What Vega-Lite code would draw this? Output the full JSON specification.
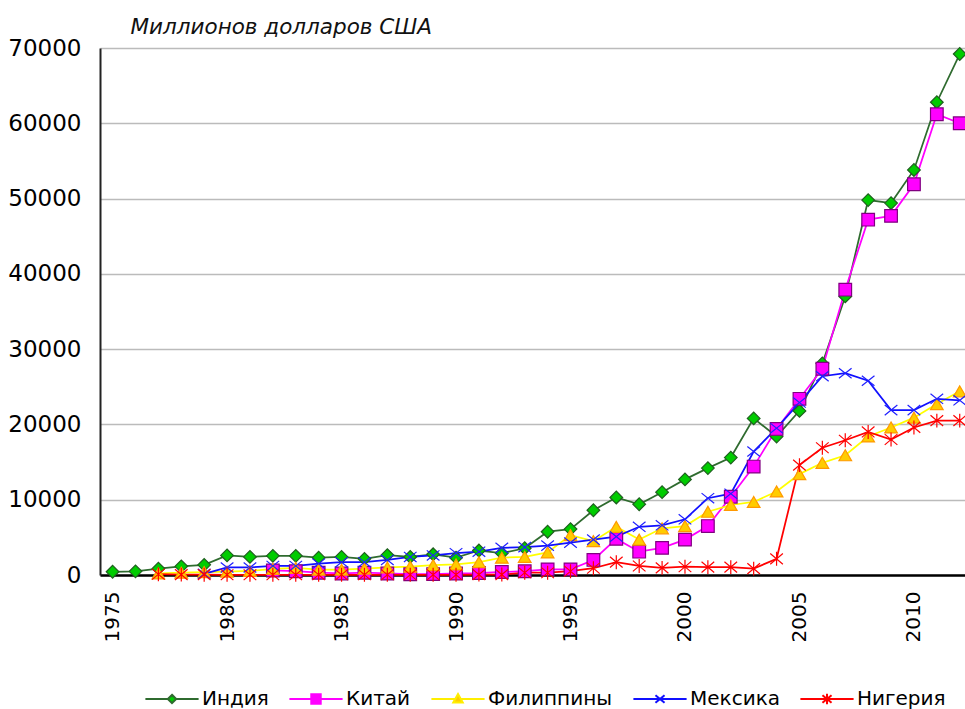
{
  "$schema": "https://vega.github.io/schema/vega-lite/v6.json",
  "width": 865,
  "height": 527,
  "autosize": {"type": "none"},
  "padding": {"left": 100, "top": 48, "right": 0, "bottom": 134},
  "background": "#ffffff",
  "config": {"view": {"stroke": null}, "point": {"size": 160}},
  "data": {"values": [
    {"country":"Индия","year":1975,"value":430},{"country":"Индия","year":1976,"value":490},{"country":"Индия","year":1977,"value":850},{"country":"Индия","year":1978,"value":1150},{"country":"Индия","year":1979,"value":1350},{"country":"Индия","year":1980,"value":2600},{"country":"Индия","year":1981,"value":2400},{"country":"Индия","year":1982,"value":2550},{"country":"Индия","year":1983,"value":2550},{"country":"Индия","year":1984,"value":2300},{"country":"Индия","year":1985,"value":2400},{"country":"Индия","year":1986,"value":2150},{"country":"Индия","year":1987,"value":2650},{"country":"Индия","year":1988,"value":2400},{"country":"Индия","year":1989,"value":2750},{"country":"Индия","year":1990,"value":2300},{"country":"Индия","year":1991,"value":3250},{"country":"Индия","year":1992,"value":2900},{"country":"Индия","year":1993,"value":3550},{"country":"Индия","year":1994,"value":5750},{"country":"Индия","year":1995,"value":6100},{"country":"Индия","year":1996,"value":8600},{"country":"Индия","year":1997,"value":10300},{"country":"Индия","year":1998,"value":9400},{"country":"Индия","year":1999,"value":11000},{"country":"Индия","year":2000,"value":12700},{"country":"Индия","year":2001,"value":14200},{"country":"Индия","year":2002,"value":15600},{"country":"Индия","year":2003,"value":20800},{"country":"Индия","year":2004,"value":18400},{"country":"Индия","year":2005,"value":21800},{"country":"Индия","year":2006,"value":28100},{"country":"Индия","year":2007,"value":37000},{"country":"Индия","year":2008,"value":49800},{"country":"Индия","year":2009,"value":49400},{"country":"Индия","year":2010,"value":53800},{"country":"Индия","year":2011,"value":62800},{"country":"Индия","year":2012,"value":69200},
    {"country":"Китай","year":1982,"value":600},{"country":"Китай","year":1983,"value":500},{"country":"Китай","year":1984,"value":300},{"country":"Китай","year":1985,"value":200},{"country":"Китай","year":1986,"value":300},{"country":"Китай","year":1987,"value":200},{"country":"Китай","year":1988,"value":100},{"country":"Китай","year":1989,"value":120},{"country":"Китай","year":1990,"value":200},{"country":"Китай","year":1991,"value":260},{"country":"Китай","year":1992,"value":400},{"country":"Китай","year":1993,"value":500},{"country":"Китай","year":1994,"value":750},{"country":"Китай","year":1995,"value":750},{"country":"Китай","year":1996,"value":2000},{"country":"Китай","year":1997,"value":4800},{"country":"Китай","year":1998,"value":3100},{"country":"Китай","year":1999,"value":3600},{"country":"Китай","year":2000,"value":4700},{"country":"Китай","year":2001,"value":6500},{"country":"Китай","year":2002,"value":10400},{"country":"Китай","year":2003,"value":14400},{"country":"Китай","year":2004,"value":19400},{"country":"Китай","year":2005,"value":23400},{"country":"Китай","year":2006,"value":27400},{"country":"Китай","year":2007,"value":37900},{"country":"Китай","year":2008,"value":47200},{"country":"Китай","year":2009,"value":47700},{"country":"Китай","year":2010,"value":51900},{"country":"Китай","year":2011,"value":61200},{"country":"Китай","year":2012,"value":60000},
    {"country":"Филиппины","year":1977,"value":200},{"country":"Филиппины","year":1978,"value":300},{"country":"Филиппины","year":1979,"value":380},{"country":"Филиппины","year":1980,"value":450},{"country":"Филиппины","year":1981,"value":550},{"country":"Филиппины","year":1982,"value":800},{"country":"Филиппины","year":1983,"value":950},{"country":"Филиппины","year":1984,"value":700},{"country":"Филиппины","year":1985,"value":700},{"country":"Филиппины","year":1986,"value":850},{"country":"Филиппины","year":1987,"value":1000},{"country":"Филиппины","year":1988,"value":1100},{"country":"Филиппины","year":1989,"value":1300},{"country":"Филиппины","year":1990,"value":1400},{"country":"Филиппины","year":1991,"value":1700},{"country":"Филиппины","year":1992,"value":2300},{"country":"Филиппины","year":1993,"value":2400},{"country":"Филиппины","year":1994,"value":3000},{"country":"Филиппины","year":1995,"value":5300},{"country":"Филиппины","year":1996,"value":4500},{"country":"Филиппины","year":1997,"value":6400},{"country":"Филиппины","year":1998,"value":4700},{"country":"Филиппины","year":1999,"value":6200},{"country":"Филиппины","year":2000,"value":6500},{"country":"Филиппины","year":2001,"value":8400},{"country":"Филиппины","year":2002,"value":9300},{"country":"Филиппины","year":2003,"value":9700},{"country":"Филиппины","year":2004,"value":11100},{"country":"Филиппины","year":2005,"value":13400},{"country":"Филиппины","year":2006,"value":14900},{"country":"Филиппины","year":2007,"value":15900},{"country":"Филиппины","year":2008,"value":18400},{"country":"Филиппины","year":2009,"value":19600},{"country":"Филиппины","year":2010,"value":20900},{"country":"Филиппины","year":2011,"value":22700},{"country":"Филиппины","year":2012,"value":24400},
    {"country":"Мексика","year":1979,"value":150},{"country":"Мексика","year":1980,"value":1000},{"country":"Мексика","year":1981,"value":1000},{"country":"Мексика","year":1982,"value":1200},{"country":"Мексика","year":1983,"value":1200},{"country":"Мексика","year":1984,"value":1500},{"country":"Мексика","year":1985,"value":1700},{"country":"Мексика","year":1986,"value":1700},{"country":"Мексика","year":1987,"value":2000},{"country":"Мексика","year":1988,"value":2400},{"country":"Мексика","year":1989,"value":2600},{"country":"Мексика","year":1990,"value":2900},{"country":"Мексика","year":1991,"value":3100},{"country":"Мексика","year":1992,"value":3600},{"country":"Мексика","year":1993,"value":3700},{"country":"Мексика","year":1994,"value":3900},{"country":"Мексика","year":1995,"value":4300},{"country":"Мексика","year":1996,"value":4700},{"country":"Мексика","year":1997,"value":5100},{"country":"Мексика","year":1998,"value":6400},{"country":"Мексика","year":1999,"value":6600},{"country":"Мексика","year":2000,"value":7400},{"country":"Мексика","year":2001,"value":10200},{"country":"Мексика","year":2002,"value":10800},{"country":"Мексика","year":2003,"value":16400},{"country":"Мексика","year":2004,"value":19500},{"country":"Мексика","year":2005,"value":22900},{"country":"Мексика","year":2006,"value":26400},{"country":"Мексика","year":2007,"value":26800},{"country":"Мексика","year":2008,"value":25800},{"country":"Мексика","year":2009,"value":21900},{"country":"Мексика","year":2010,"value":21900},{"country":"Мексика","year":2011,"value":23400},{"country":"Мексика","year":2012,"value":23200},
    {"country":"Нигерия","year":1977,"value":100},{"country":"Нигерия","year":1978,"value":50},{"country":"Нигерия","year":1979,"value":40},{"country":"Нигерия","year":1980,"value":30},{"country":"Нигерия","year":1981,"value":30},{"country":"Нигерия","year":1982,"value":30},{"country":"Нигерия","year":1983,"value":30},{"country":"Нигерия","year":1984,"value":30},{"country":"Нигерия","year":1985,"value":30},{"country":"Нигерия","year":1986,"value":30},{"country":"Нигерия","year":1987,"value":30},{"country":"Нигерия","year":1988,"value":30},{"country":"Нигерия","year":1989,"value":30},{"country":"Нигерия","year":1990,"value":30},{"country":"Нигерия","year":1991,"value":50},{"country":"Нигерия","year":1992,"value":60},{"country":"Нигерия","year":1993,"value":300},{"country":"Нигерия","year":1994,"value":300},{"country":"Нигерия","year":1995,"value":500},{"country":"Нигерия","year":1996,"value":900},{"country":"Нигерия","year":1997,"value":1700},{"country":"Нигерия","year":1998,"value":1200},{"country":"Нигерия","year":1999,"value":950},{"country":"Нигерия","year":2000,"value":1100},{"country":"Нигерия","year":2001,"value":1050},{"country":"Нигерия","year":2002,"value":1050},{"country":"Нигерия","year":2003,"value":850},{"country":"Нигерия","year":2004,"value":2150},{"country":"Нигерия","year":2005,"value":14600},{"country":"Нигерия","year":2006,"value":16900},{"country":"Нигерия","year":2007,"value":17900},{"country":"Нигерия","year":2008,"value":19000},{"country":"Нигерия","year":2009,"value":18000},{"country":"Нигерия","year":2010,"value":19600},{"country":"Нигерия","year":2011,"value":20500},{"country":"Нигерия","year":2012,"value":20500}
  ]},
  "encoding": {
    "x": {"field": "year", "type": "quantitative",
      "scale": {"domain": [1974.45, 2012.23], "nice": false, "zero": false},
      "axis": {"title": null, "values": [1975,1980,1985,1990,1995,2000,2005,2010], "format": "d",
        "labelAngle": 270, "labelFont": "DejaVu Sans", "labelFontSize": 20, "labelColor": "#000000",
        "labelPadding": 16, "labelFlush": false, "labelOverlap": false, "ticks": false, "grid": false,
        "domainColor": "#000000", "domainWidth": 2.5}},
    "y": {"field": "value", "type": "quantitative",
      "scale": {"domain": [0, 70000], "nice": false},
      "axis": {"values": [0,10000,20000,30000,40000,50000,60000,70000], "format": "d",
        "labelFont": "DejaVu Sans", "labelFontSize": 23, "labelColor": "#000000", "labelPadding": 19,
        "ticks": false, "grid": true, "gridColor": "#BBBBBB", "gridWidth": 1.5,
        "domainColor": "#222222", "domainWidth": 2,
        "title": "Миллионов долларов США", "titleAngle": 0, "titleAlign": "left", "titleBaseline": "alphabetic",
        "titleX": 30, "titleY": -15, "titleFont": "DejaVu Sans", "titleFontStyle": "italic",
        "titleFontWeight": "normal", "titleFontSize": 21.5, "titleColor": "#111111"}}
  },
  "layer": [
    {
      "mark": {"type": "line", "strokeWidth": 1.75},
      "encoding": {
        "color": {"field": "country", "type": "nominal",
          "scale": {"domain": ["Индия","Китай","Филиппины","Мексика","Нигерия"],
                    "range": ["#2F6B2F","#FF00FF","#FFFF00","#1010FF","#FF0000"]},
          "legend": null}
      }
    },
    {
      "mark": {"type": "point", "filled": true, "strokeWidth": 1.2, "opacity": 1},
      "encoding": {
        "shape": {"field": "country", "type": "nominal",
          "scale": {"domain": ["Индия","Китай","Филиппины","Мексика","Нигерия"],
                    "range": ["diamond","square","triangle-up","M-1,-0.8L1,0.8M-1,0.8L1,-0.8","M-1,-0.85L1,0.85M-1,0.85L1,-0.85M0,-1.1V1.1"]},
          "legend": null},
        "fill": {"field": "country", "type": "nominal",
          "scale": {"domain": ["Индия","Китай","Филиппины","Мексика","Нигерия"],
                    "range": ["#00CC00","#FF00FF","#FFCC00","transparent","transparent"]},
          "legend": null},
        "stroke": {"field": "country", "type": "nominal",
          "scale": {"domain": ["Индия","Китай","Филиппины","Мексика","Нигерия"],
                    "range": ["#1F5F1F","#800080","#FF9900","#2020FF","#FF0000"]},
          "legend": null}
      }
    },
    {
      "transform": [{"filter": "false"}],
      "mark": {"type": "point", "filled": true, "strokeWidth": 2, "opacity": 1},
      "encoding": {
        "shape": {"field": "country", "type": "nominal",
          "scale": {"domain": ["Индия","Китай","Филиппины","Мексика","Нигерия"],
                    "range": ["M-7.6,0H-1.2M1.2,0H7.6M0,-1.2L1.2,0L0,1.2L-1.2,0Z","M-7.6,0H-1.35M1.35,0H7.6M-1.35,-1.35H1.35V1.35H-1.35Z","M-7.6,0H-0.8M0.8,0H7.6M0,-1.4L1.35,1.0H-1.35Z","M-7.6,0H7.6M-1.3,-1.1L1.3,1.1M-1.3,1.1L1.3,-1.1","M-7.6,0H7.6M-1.3,-1.1L1.3,1.1M-1.3,1.1L1.3,-1.1M0,-1.5V1.5"]},
          "legend": {"orient": "none", "legendX": 45, "legendY": 641, "direction": "horizontal",
            "title": null, "padding": 0, "columnPadding": 16, "labelFont": "DejaVu Sans", "labelFontSize": 20,
            "labelColor": "#000000", "symbolSize": 49, "symbolOffset": 17, "symbolOpacity": 1,
            "labelOffset": 20, "symbolStrokeWidth": 2}},
        "fill": {"field": "country", "type": "nominal",
          "scale": {"domain": ["Индия","Китай","Филиппины","Мексика","Нигерия"],
                    "range": ["#00CC00","#FF00FF","#FFCC00","transparent","transparent"]},
          "legend": null},
        "stroke": {"field": "country", "type": "nominal",
          "scale": {"domain": ["Индия","Китай","Филиппины","Мексика","Нигерия"],
                    "range": ["#2F6B2F","#FF00FF","#FFEE00","#1010FF","#FF0000"]},
          "legend": null}
      }
    }
  ],
  "resolve": {"scale": {"shape": "independent", "fill": "independent", "stroke": "independent"}}
}
